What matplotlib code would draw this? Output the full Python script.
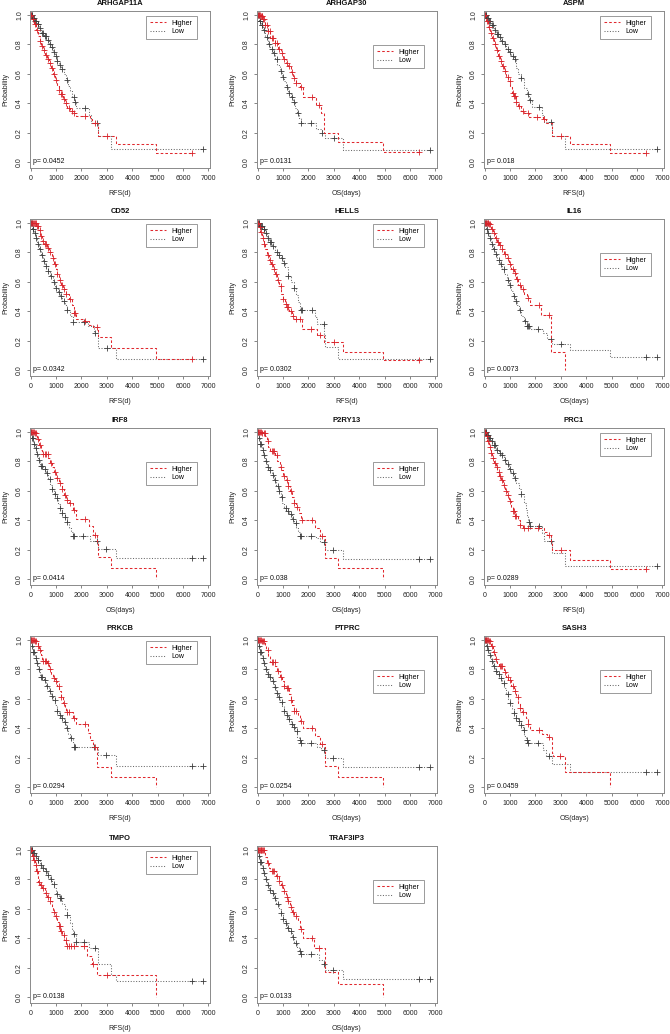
import numpy as np
import matplotlib
matplotlib.use("Agg")
import matplotlib.pyplot as plt
from matplotlib.lines import Line2D

plt.rcParams['font.family'] = ['Liberation Sans', 'DejaVu Sans']

# panel metadata, in reading order
genes = ["ARHGAP11A", "ARHGAP30", "ASPM", "CD52", "HELLS", "IL16", "IRF8",
         "P2RY13", "PRC1", "PRKCB", "PTPRC", "SASH3", "TMPO", "TRAF3IP3"]
xlabels = ["RFS(d)", "OS(days)", "RFS(d)", "RFS(d)", "RFS(d)", "OS(days)", "OS(days)",
           "OS(days)", "RFS(d)", "RFS(d)", "OS(days)", "OS(days)", "RFS(d)", "OS(days)"]
pvals = ["0.0452", "0.0131", "0.018", "0.0342", "0.0302", "0.0073", "0.0414",
         "0.038", "0.0289", "0.0294", "0.0254", "0.0459", "0.0138", "0.0133"]
legend_pos = ["top", "mid", "top", "top", "top", "mid", "mid",
              "mid", "top", "top", "mid", "mid", "top", "mid"]

# Kaplan-Meier steps: (time, survival after the step); censor times
arhgap11a_hi = [(0,1.0),(60,0.97),(120,0.94),(200,0.9),(280,0.86),(350,0.82),(420,0.79),(500,0.76),(580,0.73),(650,0.7),(720,0.67),(800,0.64),(880,0.6),(950,0.56),(1030,0.52),(1100,0.49),(1180,0.46),(1260,0.43),(1350,0.4),(1450,0.37),(1560,0.35),(1680,0.33),(1800,0.31),(2330,0.29),(2420,0.265),(2650,0.18),(3350,0.12),(4950,0.06)]
arhgap11a_hi_c = [30,90,150,250,380,450,540,620,700,760,850,920,1000,1120,1200,1230,1300,1400,1500,1620,1720,2150,2550,3000,6350]
arhgap11a_lo = [(0,1.0),(80,0.98),(160,0.96),(250,0.94),(330,0.91),(420,0.88),(520,0.86),(620,0.83),(720,0.8),(800,0.78),(880,0.75),(950,0.72),(1020,0.69),(1100,0.66),(1200,0.63),(1300,0.6),(1400,0.56),(1480,0.52),(1560,0.48),(1640,0.44),(1720,0.41),(1800,0.37),(2300,0.32),(2380,0.265),(2650,0.18),(3150,0.085)]
arhgap11a_lo_c = [20,40,60,100,130,180,210,280,300,370,450,500,560,600,680,760,850,900,980,1050,1150,1250,1450,1700,1760,2150,2600,6800]

arhgap30_hi = [(0,1.0),(100,0.99),(200,0.97),(300,0.93),(400,0.89),(500,0.84),(700,0.81),(800,0.77),(900,0.74),(1000,0.7),(1100,0.67),(1200,0.65),(1300,0.61),(1400,0.57),(1500,0.54),(1650,0.51),(1800,0.44),(2300,0.39),(2500,0.33),(2630,0.2),(3150,0.133),(4950,0.065)]
arhgap30_hi_c = [30,60,90,120,150,180,220,260,300,350,420,480,560,620,700,760,850,950,1050,1150,1250,1350,1450,1500,1700,2150,2400,6350]
arhgap30_lo = [(0,1.0),(60,0.96),(120,0.93),(200,0.9),(300,0.85),(400,0.8),(500,0.77),(600,0.74),(700,0.7),(780,0.66),(860,0.62),(950,0.58),(1020,0.55),(1100,0.51),(1200,0.47),(1300,0.44),(1400,0.41),(1480,0.37),(1560,0.33),(1620,0.3),(1700,0.265),(2300,0.225),(2550,0.2),(2650,0.165),(3350,0.08)]
arhgap30_lo_c = [20,40,80,100,150,180,250,350,450,550,650,750,900,1000,1150,1250,1350,1450,1600,1700,2100,2550,3000,6800]

aspm_hi = [(0,1.0),(60,0.96),(130,0.92),(200,0.88),(280,0.84),(350,0.8),(430,0.76),(520,0.72),(600,0.69),(680,0.65),(760,0.62),(850,0.58),(920,0.55),(1000,0.51),(1080,0.47),(1140,0.45),(1220,0.41),(1300,0.38),(1420,0.35),(1540,0.33),(1730,0.305),(2300,0.29),(2400,0.265),(2650,0.18),(3350,0.12),(4950,0.06)]
aspm_hi_c = [30,90,160,250,320,400,480,560,650,720,800,900,980,1100,1150,1200,1250,1350,1500,1700,2050,2350,3000,6350]
aspm_lo = [(0,1.0),(80,0.98),(160,0.96),(260,0.93),(360,0.9),(460,0.87),(560,0.85),(660,0.82),(750,0.8),(850,0.77),(950,0.75),(1050,0.72),(1140,0.7),(1220,0.64),(1320,0.6),(1450,0.57),(1550,0.5),(1650,0.46),(1730,0.42),(1850,0.375),(2250,0.32),(2350,0.27),(2650,0.18),(3150,0.085)]
aspm_lo_c = [20,40,60,100,130,180,220,280,320,400,480,520,600,700,800,900,1000,1100,1200,1450,1700,1800,2150,2600,6800]

cd52_hi = [(0,1.0),(200,0.98),(300,0.95),(380,0.91),(450,0.88),(520,0.86),(650,0.83),(720,0.8),(820,0.76),(900,0.72),(980,0.69),(1050,0.65),(1120,0.61),(1200,0.58),(1280,0.55),(1400,0.52),(1500,0.48),(1620,0.44),(1700,0.39),(1800,0.35),(2100,0.33),(2300,0.305),(2450,0.29),(2650,0.226),(3150,0.15),(4950,0.075)]
cd52_hi_c = [30,60,100,130,160,190,230,280,350,420,500,560,620,700,780,860,950,1050,1150,1250,1300,1400,1550,1700,1750,2150,2600,6350]
cd52_lo = [(0,1.0),(60,0.96),(120,0.93),(200,0.9),(260,0.86),(330,0.82),(400,0.78),(480,0.74),(580,0.71),(680,0.67),(780,0.64),(880,0.6),(970,0.56),(1060,0.53),(1150,0.5),(1250,0.47),(1350,0.44),(1450,0.41),(1550,0.37),(1650,0.325),(2250,0.3),(2500,0.25),(2650,0.15),(3350,0.075)]
cd52_lo_c = [20,40,80,100,150,220,300,350,450,520,600,700,800,900,1000,1100,1200,1300,1450,1650,2100,2550,3000,6800]

hells_hi = [(0,1.0),(50,0.97),(100,0.94),(170,0.9),(230,0.86),(280,0.82),(350,0.78),(450,0.75),(520,0.72),(620,0.69),(700,0.65),(770,0.61),(850,0.57),(930,0.52),(1000,0.48),(1060,0.45),(1150,0.43),(1250,0.4),(1350,0.37),(1450,0.35),(1750,0.28),(2350,0.24),(2600,0.19),(3350,0.125),(4950,0.065)]
hells_hi_c = [30,80,130,200,260,400,480,560,650,730,800,900,1000,1100,1150,1200,1300,1400,1500,1650,2100,2450,3000,6350]
hells_lo = [(0,1.0),(80,0.98),(200,0.96),(300,0.93),(350,0.9),(450,0.87),(550,0.84),(680,0.8),(800,0.78),(900,0.76),(1000,0.73),(1080,0.7),(1180,0.64),(1300,0.6),(1420,0.56),(1500,0.51),(1580,0.46),(1650,0.41),(2250,0.36),(2350,0.31),(2620,0.24),(2650,0.155),(3150,0.078)]
hells_lo_c = [20,40,60,100,130,160,230,260,330,400,500,520,600,750,850,950,1050,1200,1450,1700,1750,2150,2600,6800]

il16_hi = [(0,1.0),(150,0.99),(260,0.96),(320,0.93),(400,0.9),(480,0.87),(560,0.85),(700,0.82),(780,0.79),(860,0.76),(950,0.72),(1020,0.69),(1150,0.66),(1230,0.62),(1320,0.58),(1420,0.55),(1550,0.52),(1650,0.49),(1800,0.445),(2200,0.372),(2620,0.125),(3150,0.0)]
il16_hi_c = [20,50,80,110,140,180,220,300,350,450,520,620,700,800,900,1000,1100,1200,1280,1400,1500,1700,2150,2550]
il16_lo = [(0,1.0),(50,0.96),(100,0.93),(170,0.9),(240,0.86),(320,0.82),(400,0.79),(500,0.75),(620,0.72),(700,0.69),(780,0.65),(860,0.61),(940,0.58),(1020,0.54),(1100,0.5),(1180,0.47),(1270,0.44),(1360,0.41),(1450,0.37),(1550,0.33),(1650,0.3),(1800,0.276),(2300,0.25),(2450,0.21),(2650,0.178),(3350,0.133),(4950,0.09)]
il16_lo_c = [20,40,80,130,200,280,350,450,550,650,750,900,1000,1150,1250,1400,1600,1650,1700,1750,2100,2600,3000,6350,6800]

irf8_hi = [(0,1.0),(150,0.99),(250,0.95),(330,0.91),(400,0.88),(450,0.85),(700,0.82),(780,0.79),(850,0.76),(920,0.73),(1000,0.69),(1120,0.65),(1220,0.61),(1300,0.57),(1380,0.54),(1500,0.52),(1650,0.47),(1800,0.41),(2300,0.36),(2450,0.3),(2600,0.25),(2650,0.148),(3150,0.075),(4950,0.0)]
irf8_hi_c = [20,50,80,110,180,220,300,380,500,560,620,680,800,950,1050,1150,1250,1350,1450,1550,1700,2150,2550]
irf8_lo = [(0,1.0),(40,0.96),(100,0.92),(150,0.89),(220,0.85),(300,0.81),(380,0.77),(500,0.75),(600,0.72),(680,0.68),(760,0.64),(830,0.61),(930,0.58),(1020,0.55),(1080,0.51),(1150,0.48),(1250,0.45),(1350,0.42),(1450,0.39),(1520,0.35),(1600,0.32),(1650,0.295),(2350,0.255),(2650,0.205),(3350,0.14)]
irf8_lo_c = [20,60,80,130,200,260,330,420,450,550,650,750,850,950,1050,1150,1250,1350,1450,1650,1700,2050,2600,2950,6350,6800]

p2ry13_hi = [(0,1.0),(150,0.99),(300,0.97),(350,0.94),(420,0.9),(500,0.87),(700,0.84),(780,0.8),(860,0.76),(920,0.74),(1000,0.7),(1100,0.67),(1180,0.63),(1260,0.6),(1340,0.56),(1420,0.52),(1520,0.49),(1620,0.45),(1700,0.4),(2250,0.35),(2450,0.29),(2650,0.145),(3150,0.072),(4950,0.0)]
p2ry13_hi_c = [20,50,80,110,180,230,270,400,550,600,650,750,900,1050,1150,1200,1300,1450,1550,1750,2150,2550]
p2ry13_lo = [(0,1.0),(40,0.96),(90,0.92),(150,0.88),(220,0.84),(300,0.8),(380,0.76),(460,0.74),(560,0.71),(650,0.67),(730,0.63),(820,0.6),(900,0.56),(970,0.52),(1050,0.48),(1130,0.46),(1250,0.44),(1350,0.41),(1450,0.38),(1520,0.35),(1600,0.32),(1650,0.295),(2300,0.28),(2450,0.25),(2650,0.2),(3350,0.135)]
p2ry13_lo_c = [20,60,100,130,200,260,330,420,500,600,700,800,850,950,1100,1200,1300,1400,1500,1650,1700,2100,2600,2950,6350,6800]

prc1_hi = [(0,1.0),(50,0.97),(100,0.94),(170,0.9),(230,0.86),(290,0.82),(350,0.79),(430,0.76),(500,0.73),(580,0.7),(650,0.67),(720,0.64),(800,0.6),(880,0.57),(950,0.53),(1020,0.49),(1100,0.46),(1200,0.43),(1300,0.4),(1400,0.37),(1500,0.345),(2350,0.32),(2450,0.3),(2620,0.25),(2650,0.2),(3350,0.13),(4950,0.065)]
prc1_hi_c = [30,80,130,200,260,320,400,470,550,620,700,760,850,920,1000,1100,1150,1200,1250,1400,1550,1700,2100,2550,3000,6350]
prc1_lo = [(0,1.0),(80,0.98),(150,0.96),(250,0.94),(350,0.91),(450,0.88),(550,0.86),(650,0.84),(750,0.81),(850,0.78),(950,0.75),(1050,0.72),(1150,0.69),(1250,0.65),(1350,0.61),(1450,0.575),(1550,0.52),(1620,0.47),(1680,0.43),(1720,0.39),(1800,0.36),(2250,0.31),(2350,0.26),(2650,0.175),(3150,0.085)]
prc1_lo_c = [20,40,60,100,130,180,220,300,380,420,500,600,700,800,900,1000,1100,1200,1450,1750,1800,2150,2600,6800]

prkcb_hi = [(0,1.0),(150,0.99),(280,0.96),(340,0.93),(400,0.9),(450,0.86),(650,0.84),(720,0.8),(800,0.77),(860,0.74),(950,0.72),(1020,0.69),(1120,0.65),(1200,0.61),(1280,0.57),(1350,0.54),(1400,0.51),(1650,0.47),(1800,0.43),(2250,0.37),(2350,0.32),(2450,0.27),(2620,0.135),(3150,0.068),(4950,0.0)]
prkcb_hi_c = [20,50,80,110,170,220,300,380,500,560,600,700,780,900,1000,1100,1200,1300,1450,1500,1700,2150,2550]
prkcb_lo = [(0,1.0),(40,0.96),(90,0.92),(150,0.88),(220,0.84),(300,0.8),(380,0.75),(520,0.73),(620,0.69),(720,0.65),(800,0.62),(880,0.59),(960,0.56),(1030,0.52),(1100,0.49),(1180,0.47),(1300,0.44),(1400,0.4),(1480,0.36),(1560,0.33),(1650,0.3),(1700,0.27),(2650,0.22),(3350,0.145)]
prkcb_lo_c = [20,60,100,130,200,260,330,420,450,560,650,750,850,950,1050,1150,1250,1350,1450,1600,1700,1750,2500,2950,6350,6800]

ptprc_hi = [(0,1.0),(150,0.99),(280,0.96),(340,0.93),(420,0.89),(500,0.85),(700,0.82),(780,0.79),(860,0.75),(940,0.72),(1020,0.69),(1130,0.67),(1220,0.63),(1300,0.59),(1360,0.56),(1450,0.52),(1580,0.49),(1680,0.45),(1780,0.4),(2250,0.35),(2450,0.29),(2650,0.145),(3150,0.07),(4950,0.0)]
ptprc_hi_c = [20,50,80,110,170,220,260,400,560,620,680,800,900,1050,1150,1200,1300,1450,1500,1700,2150,2550]
ptprc_lo = [(0,1.0),(40,0.96),(90,0.92),(150,0.88),(220,0.84),(300,0.8),(380,0.77),(460,0.75),(560,0.72),(640,0.68),(720,0.64),(800,0.61),(880,0.58),(960,0.55),(1040,0.52),(1120,0.49),(1200,0.46),(1300,0.43),(1400,0.41),(1480,0.38),(1560,0.34),(1620,0.32),(1700,0.3),(2350,0.27),(2500,0.25),(2650,0.2),(3350,0.135)]
ptprc_lo_c = [20,60,100,130,200,260,330,420,500,600,700,780,850,950,1050,1150,1250,1350,1450,1550,1650,1700,2100,2600,2950,6350,6800]

sash3_hi = [(0,1.0),(150,0.99),(250,0.96),(330,0.92),(420,0.87),(500,0.84),(560,0.82),(750,0.78),(850,0.75),(920,0.725),(1020,0.69),(1150,0.65),(1250,0.61),(1330,0.57),(1400,0.54),(1480,0.51),(1620,0.47),(1700,0.43),(1800,0.39),(2250,0.36),(2450,0.34),(2650,0.23),(2700,0.208),(3150,0.1),(4950,0.0)]
sash3_hi_c = [20,50,80,110,180,220,280,380,460,600,650,700,800,900,1000,1100,1200,1300,1400,1500,1700,2150,2550,2950]
sash3_lo = [(0,1.0),(50,0.96),(100,0.93),(170,0.9),(240,0.86),(320,0.82),(400,0.79),(480,0.77),(580,0.74),(680,0.71),(760,0.67),(840,0.63),(920,0.6),(1000,0.57),(1080,0.53),(1150,0.5),(1220,0.47),(1320,0.45),(1420,0.42),(1500,0.39),(1560,0.35),(1620,0.32),(1660,0.3),(2300,0.25),(2400,0.21),(2650,0.158),(3350,0.1)]
sash3_lo_c = [20,40,80,130,200,280,350,450,550,650,750,900,1000,1150,1250,1350,1450,1550,1650,1700,2100,2550,6350,6800]

tmpo_hi = [(0,1.0),(50,0.96),(100,0.93),(160,0.9),(220,0.86),(270,0.82),(300,0.785),(380,0.76),(450,0.74),(550,0.71),(650,0.68),(750,0.65),(820,0.61),(880,0.58),(950,0.55),(1020,0.51),(1100,0.48),(1170,0.45),(1250,0.42),(1320,0.39),(1400,0.36),(1450,0.346),(2200,0.282),(2400,0.226),(2600,0.15),(4950,0.0)]
tmpo_hi_c = [30,80,130,190,250,340,420,500,600,700,780,900,1000,1100,1150,1200,1300,1380,1450,1500,1600,1700,2100,2450,3000]
tmpo_lo = [(0,1.0),(80,0.98),(160,0.96),(250,0.93),(350,0.9),(450,0.88),(550,0.86),(650,0.83),(750,0.8),(850,0.77),(920,0.74),(1000,0.7),(1100,0.674),(1250,0.63),(1350,0.6),(1450,0.56),(1550,0.5),(1620,0.46),(1680,0.43),(1800,0.375),(2300,0.335),(2650,0.226),(3150,0.15),(3350,0.11)]
tmpo_lo_c = [20,40,60,100,130,200,280,300,400,500,600,700,800,900,1050,1150,1200,1450,1700,1800,2100,2550,6350,6800]

traf3ip3_hi = [(0,1.0),(250,0.99),(300,0.95),(380,0.91),(450,0.88),(500,0.855),(720,0.82),(820,0.79),(900,0.76),(1000,0.72),(1100,0.68),(1200,0.65),(1280,0.61),(1350,0.58),(1450,0.55),(1600,0.52),(1680,0.46),(1800,0.4),(2200,0.33),(2650,0.17),(3150,0.085),(4950,0.0)]
traf3ip3_hi_c = [20,50,80,110,140,170,200,230,400,550,600,650,750,850,950,1050,1150,1200,1300,1400,1500,1700,2150,2400]
traf3ip3_lo = [(0,1.0),(40,0.96),(90,0.92),(150,0.88),(220,0.84),(300,0.8),(380,0.76),(460,0.73),(560,0.71),(650,0.67),(730,0.63),(820,0.6),(900,0.57),(980,0.53),(1060,0.5),(1140,0.47),(1250,0.45),(1350,0.41),(1450,0.37),(1550,0.34),(1620,0.31),(1700,0.295),(2400,0.25),(2600,0.225),(2650,0.183),(3350,0.12)]
traf3ip3_lo_c = [20,60,100,130,200,260,330,420,500,600,700,800,900,1000,1100,1200,1300,1400,1500,1650,1700,2100,2600,2950,6350,6800]

curves = [
    (arhgap11a_hi, arhgap11a_hi_c, arhgap11a_lo, arhgap11a_lo_c),
    (arhgap30_hi, arhgap30_hi_c, arhgap30_lo, arhgap30_lo_c),
    (aspm_hi, aspm_hi_c, aspm_lo, aspm_lo_c),
    (cd52_hi, cd52_hi_c, cd52_lo, cd52_lo_c),
    (hells_hi, hells_hi_c, hells_lo, hells_lo_c),
    (il16_hi, il16_hi_c, il16_lo, il16_lo_c),
    (irf8_hi, irf8_hi_c, irf8_lo, irf8_lo_c),
    (p2ry13_hi, p2ry13_hi_c, p2ry13_lo, p2ry13_lo_c),
    (prc1_hi, prc1_hi_c, prc1_lo, prc1_lo_c),
    (prkcb_hi, prkcb_hi_c, prkcb_lo, prkcb_lo_c),
    (ptprc_hi, ptprc_hi_c, ptprc_lo, ptprc_lo_c),
    (sash3_hi, sash3_hi_c, sash3_lo, sash3_lo_c),
    (tmpo_hi, tmpo_hi_c, tmpo_lo, tmpo_lo_c),
    (traf3ip3_hi, traf3ip3_hi_c, traf3ip3_lo, traf3ip3_lo_c),
]

RED = '#e0282e'
GRAY = '#6a6a6a'
FRAME = '#8a8a8a'

W, H = 670, 1034
fig = plt.figure(figsize=(W / 100, H / 100), dpi=100)

col_left = [30, 257, 484]
row_top = [11, 219, 428, 636, 846]
ax_w, ax_h = 180, 157


def draw_km(ax, steps, cens, color, ls, mcolor):
    t = np.array([p[0] for p in steps], dtype=float)
    s = np.array([p[1] for p in steps], dtype=float)
    c = np.array(cens, dtype=float)
    t_end = max(t[-1], c.max()) if len(c) else t[-1]
    tt = np.append(t, t_end)
    ss = np.append(s, s[-1])
    ax.step(tt, ss, where='post', color=color, lw=0.75, linestyle=ls)
    if len(c):
        idx = np.searchsorted(t, c, side='right') - 1
        ax.plot(c, s[idx], linestyle='none', marker='+', ms=4.5, mew=0.6,
                color=mcolor)


for i, gene in enumerate(genes):
    r, k = divmod(i, 3)
    left = col_left[k] / W
    bottom = 1 - (row_top[r] + ax_h) / H
    ax = fig.add_axes([left, bottom, ax_w / W, ax_h / H])
    hi, hi_c, lo, lo_c = curves[i]
    draw_km(ax, lo, lo_c, GRAY, (0, (1, 1.6)), '#3c3c3c')
    draw_km(ax, hi, hi_c, RED, (0, (2.5, 2)), '#d8232a')

    ax.set_xlim(-28, 7067)
    ax.set_ylim(-0.041, 1.027)
    ax.set_xticks([0, 1000, 2000, 3000, 4000, 5000, 6000, 7000])
    ax.set_yticks([0.0, 0.2, 0.4, 0.6, 0.8, 1.0])
    ax.set_yticklabels(["0.0", "0.2", "0.4", "0.6", "0.8", "1.0"],
                       rotation=90, va='center')
    ax.tick_params(labelsize=5, length=2.5, width=0.5, color='#555555',
                   pad=2.5, labelcolor='#222222')
    for sp in ax.spines.values():
        sp.set_color(FRAME)
        sp.set_linewidth(0.7)
    ax.set_title(gene, fontsize=5.5, fontweight='bold', pad=4.5, color='#111111')
    ax.set_xlabel(xlabels[i], fontsize=5, labelpad=6, color='#222222')
    ax.set_ylabel("Probability", fontsize=5, labelpad=5, color='#222222')
    ax.text(100, 0.0, "p= " + pvals[i], fontsize=5, ha='left', va='center',
            color='#111111')

    handles = [Line2D([0], [0], color=RED, lw=0.75, linestyle=(0, (2.5, 2))),
               Line2D([0], [0], color=GRAY, lw=0.75, linestyle=(0, (1, 1.6)))]
    anchor_y = 0.97 if legend_pos[i] == "top" else 0.785
    leg = ax.legend(handles, ["Higher", "Low"], loc='upper right',
                    bbox_to_anchor=(0.925, anchor_y), fontsize=5,
                    fancybox=False, framealpha=1, edgecolor=FRAME,
                    handlelength=2.3, handletextpad=0.8, borderpad=0.55,
                    labelspacing=0.25, borderaxespad=0)
    leg.get_frame().set_linewidth(0.6)

fig.savefig("out.png", dpi=100)
